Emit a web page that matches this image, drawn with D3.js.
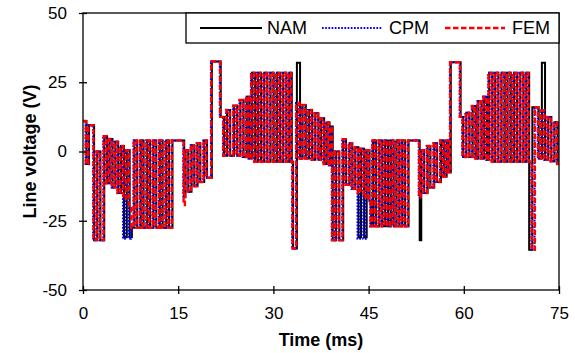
<!DOCTYPE html>
<html><head><meta charset="utf-8">
<script src="https://cdn.jsdelivr.net/npm/d3@7"></script>
<style>body{margin:0;background:#fff}svg{display:block}text{font-family:Arial,"Liberation Sans",sans-serif;fill:#000}</style>
</head><body><svg id="c" width="575" height="353"></svg>
<script>
const xTicks = [0, 15, 30, 45, 60, 75];
const yTicks = [-50, -25, 0, 25, 50];
const seriesNames = ["NAM", "CPM", "FEM"];
// common PWM line-voltage waveform (time ms, voltage V), step points
const baseWave = [[0,11],[0.45,-4.5],[0.85,9.5],[1.65,-32],[2.15,0],[2.65,-32],[3.25,5.5],[3.7,-11.5],[4.1,4.5],[4.55,-13],[5.0,3.5],[5.45,-15],[5.9,2],[6.35,-17],[6.8,0.5],[7.25,-20],[7.6,-27.5],[8.0,4],[8.45,-27.5],[9.0,4],[9.45,-27.5],[10.0,4],[10.45,-27.5],[11.0,4],[11.45,-27.5],[12.0,4],[12.45,-27.5],[13.0,4],[13.45,-27.5],[14.0,4],[15.85,-16.5],[16.05,0.5],[16.5,-14.5],[17.0,2.3],[17.45,-12.5],[17.95,3],[18.4,-11],[19.0,4],[19.45,-9.5],[20.2,32.5],[21.6,12.5],[22.1,-1.5],[22.6,15],[23.1,-1.5],[23.7,16.5],[24.2,-1.5],[24.7,18.6],[25.2,-2],[25.7,19.8],[26.1,-2.5],[26.5,28.4],[27.0,-3.7],[27.45,28.4],[27.95,-3.7],[28.45,28.4],[28.95,-3.7],[29.45,28.4],[29.95,-3.7],[30.45,28.4],[30.95,-3.7],[31.45,28.4],[31.95,-3.7],[32.4,28.4],[32.8,-3.7],[33.0,-35],[33.6,17.5],[34.1,-2.5],[34.5,16.8],[35.0,-2.5],[35.5,15],[36.0,-3],[36.5,13.8],[37.0,-3],[37.4,12],[37.9,-4.5],[38.3,10.5],[38.75,-5],[39.05,9],[39.25,-32],[39.75,0],[40.3,-32],[40.9,4.4],[41.35,-12],[41.9,3],[42.35,-13.5],[42.8,1.5],[43.3,-15],[43.7,1],[44.2,-16.5],[44.6,0.5],[45.05,-18],[45.3,-27],[45.6,4],[46.05,-27],[46.6,4],[47.05,-27],[47.5,4],[47.95,-27],[48.4,4],[48.85,-27],[49.3,4],[49.75,-27],[50.2,4],[50.65,-27],[51.2,4],[52.95,-16.5],[53.2,0.5],[53.65,-15],[54.2,2],[54.65,-13],[55.25,3],[55.7,-11],[56.3,4],[56.75,-9],[57.2,4],[57.6,-7.5],[57.85,32.2],[59.4,12.5],[59.8,-2],[60.3,14],[60.8,-2],[61.3,16.4],[61.8,-2.5],[62.2,18.2],[62.7,-2.5],[63.1,19.8],[63.55,-3],[63.9,28.4],[64.4,-3.7],[64.85,28.4],[65.35,-3.7],[65.85,28.4],[66.35,-3.7],[66.8,28.4],[67.3,-3.7],[67.8,28.4],[68.3,-3.7],[68.8,28.4],[69.3,-3.7],[69.75,28.4],[70.2,-3.7],[70.7,-35.5],[71.2,16],[71.7,-2.5],[72.2,14.8],[72.7,-3],[73.2,12.5],[73.7,-3.5],[74.2,10.6],[74.7,-4.5],[75,-4.5]];
// where each model departs from the common waveform
const namEdits = [[6.35,-31],[7.25,-31],[33.6,32],[43.3,-31],[44.2,-31],[52.95,-32],[70.2,-35.5],[70.7,16],[72.2,32]];
const cpmEdits = [[6.35,-31.5],[7.25,-31.5],[43.3,-31.5],[44.2,-31.5]];
const femEdits = [[15.85,-19.3]];
const timeShifts = [0.1, -0.05, 0]; // ms, NAM / CPM / FEM

function applyEdits(base, edits){
  const m = new Map(base.map(d => [d[0], d[1]]));
  edits.forEach(e => m.set(e[0], e[1]));
  return Array.from(m).sort((a, b) => a[0] - b[0]);
}
const seriesData = [applyEdits(baseWave, namEdits), applyEdits(baseWave, cpmEdits), applyEdits(baseWave, femEdits)];
const styles = [
  {stroke:"#000000", width:2, dash:null},
  {stroke:"#0000ff", width:2, dash:"1.7,1.5"},
  {stroke:"#ff0000", width:2.4, dash:"5.5,2.5"}
];

const L = 83, R = 559, T = 13, B = 290;
const svg = d3.select("#c");
const x = d3.scaleLinear().domain([0, 75]).range([L, R]);
const y = d3.scaleLinear().domain([-50, 50]).range([B, T]);
const fmt = d => String(d);

svg.append("defs").append("clipPath").attr("id","clip").append("rect")
  .attr("x", L).attr("y", T).attr("width", R - L).attr("height", B - T);

const gp = svg.append("g").attr("clip-path","url(#clip)");
seriesData.forEach((d, i) => {
  const line = d3.line().x(p => x(p[0] + timeShifts[i])).y(p => y(p[1])).curve(d3.curveStepAfter);
  gp.append("path").datum(d).attr("d", line).attr("fill","none")
    .attr("stroke", styles[i].stroke).attr("stroke-width", styles[i].width)
    .attr("stroke-dasharray", styles[i].dash).attr("stroke-linejoin","miter");
});

// frame
svg.append("rect").attr("x", L).attr("y", T).attr("width", R - L).attr("height", B - T)
  .attr("fill","none").attr("stroke","#000").attr("stroke-width",1.3);

// axes
const ax = svg.append("g").attr("transform",`translate(0,${B})`)
  .call(d3.axisBottom(x).tickValues(xTicks).tickFormat(fmt).tickSize(4).tickPadding(13));
ax.select(".domain").remove();
ax.selectAll(".tick line").attr("y1",-4).attr("y2",4).attr("stroke-width",1.3);
ax.selectAll(".tick text").attr("font-size",17).attr("font-family","Arial, 'Liberation Sans', sans-serif");

const ay = svg.append("g").attr("transform",`translate(${L},0)`)
  .call(d3.axisLeft(y).tickValues(yTicks).tickFormat(fmt).tickSize(4).tickPadding(12));
ay.select(".domain").remove();
ay.selectAll(".tick line").attr("x1",-4).attr("x2",4).attr("stroke-width",1.3);
ay.selectAll(".tick text").attr("font-size",17).attr("font-family","Arial, 'Liberation Sans', sans-serif");

// titles
svg.append("text").attr("x", (L + R) / 2).attr("y", 346).attr("text-anchor","middle")
  .attr("font-size",18).attr("font-weight","bold").text("Time (ms)");
svg.append("text").attr("transform",`translate(36,${(T + B) / 2}) rotate(-90)`).attr("text-anchor","middle")
  .attr("font-size",18).attr("font-weight","bold").text("Line voltage (V)");

// legend
const lg = svg.append("g");
lg.append("rect").attr("x",186).attr("y",T).attr("width",R - 186).attr("height",30)
  .attr("fill","#fff").attr("stroke","#000").attr("stroke-width",1.3);
const legX = [[200, 262, 267], [322, 382, 389], [445, 505, 512]];
seriesNames.forEach((n, i) => {
  lg.append("line").attr("x1",legX[i][0]).attr("x2",legX[i][1]).attr("y1",28).attr("y2",28)
    .attr("stroke",styles[i].stroke).attr("stroke-width",styles[i].width).attr("stroke-dasharray",styles[i].dash);
  lg.append("text").attr("x",legX[i][2]).attr("y",33.5).attr("font-size",18).text(n);
});
</script></body></html>
